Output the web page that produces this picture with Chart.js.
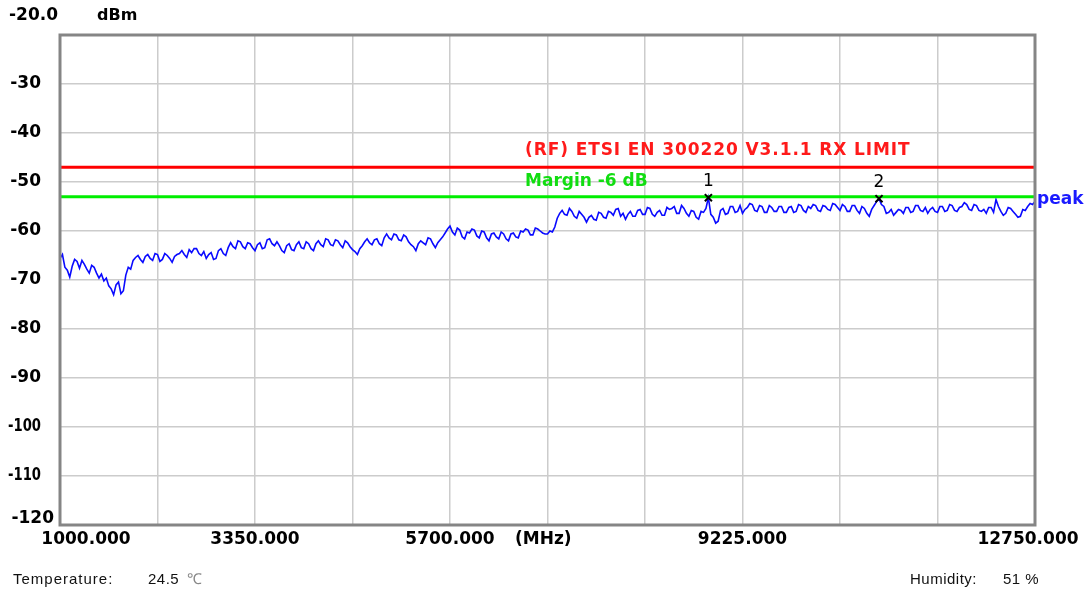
<!DOCTYPE html>
<html>
<head>
<meta charset="utf-8">
<script src="https://cdn.jsdelivr.net/npm/chart.js@4/dist/chart.umd.min.js"></script>
<style>
  html, body { margin: 0; padding: 0; background: #fff; }
  #wrap { width: 1090px; height: 593px; }
</style>
</head>
<body>
<div id="wrap"><canvas id="c" width="1090" height="593"></canvas></div>
<script>
// sweep settings (MHz)
const startFreq = 1000;
const stopFreq = 12750;
const sweepStep = 29.375;

// measured trace, dBm, one value per sweep point
const peakLevels = [
  -65.6, -64.8, -67.4, -68.0, -69.4, -67.2, -65.8, -66.2, -67.6, -66.0, -66.8, -67.8, -68.6, -67.0, -67.4, -68.6, -69.6, -68.8, -70.2, -69.6,
  -71.2, -71.8, -73.0, -71.0, -70.4, -72.8, -72.2, -69.0, -67.4, -67.8, -66.0, -65.4, -65.0, -65.8, -66.4, -65.2, -64.8, -65.6, -66.0, -64.6,
  -64.8, -66.2, -65.8, -64.6, -65.0, -65.6, -66.4, -65.2, -64.8, -64.6, -64.0, -64.8, -65.4, -63.8, -64.4, -63.6, -63.6, -64.6, -65.0, -64.2,
  -65.6, -64.8, -64.4, -65.8, -65.6, -64.0, -63.6, -64.6, -65.0, -63.4, -62.4, -63.2, -63.6, -62.0, -62.2, -63.2, -63.6, -62.4, -62.6, -63.4,
  -64.0, -62.8, -62.4, -63.6, -63.4, -61.8, -61.6, -62.6, -63.0, -62.2, -63.0, -64.0, -64.4, -63.0, -62.6, -63.8, -64.0, -62.8, -62.2, -63.4,
  -63.6, -62.2, -62.6, -63.6, -64.0, -62.6, -62.0, -62.8, -63.2, -61.6, -61.8, -62.8, -63.0, -61.8, -62.0, -62.8, -63.4, -62.0, -62.4, -63.2,
  -63.8, -64.2, -64.8, -63.6, -63.0, -62.2, -61.6, -62.4, -62.8, -61.8, -61.6, -62.6, -63.0, -61.4, -60.6, -61.4, -61.8, -60.6, -60.8, -61.8,
  -62.0, -60.8, -61.2, -62.2, -62.8, -63.2, -64.0, -62.6, -62.0, -62.4, -62.8, -61.4, -61.6, -62.6, -63.4, -62.4, -61.8, -61.2, -60.4, -59.6,
  -59.0, -60.2, -60.8, -59.4, -59.8, -61.2, -61.6, -60.2, -60.4, -59.6, -59.8, -61.0, -61.4, -60.0, -60.2, -61.4, -62.0, -60.6, -60.4, -61.2,
  -61.6, -60.2, -60.6, -61.6, -62.0, -60.6, -60.4, -61.2, -61.4, -60.0, -60.2, -59.6, -59.8, -60.8, -60.8, -59.4, -59.6, -60.0, -60.4, -60.6,
  -60.6, -60.0, -60.2, -59.2, -57.4, -56.4, -55.8, -56.6, -56.8, -55.4, -56.0, -57.0, -57.4, -56.0, -56.6, -57.2, -58.2, -57.2, -56.8, -57.6,
  -57.8, -56.2, -56.4, -57.2, -57.4, -56.0, -56.2, -56.8, -55.6, -55.4, -57.0, -56.4, -57.6, -56.6, -56.0, -57.0, -57.0, -55.8, -55.6, -56.6,
  -56.6, -55.2, -55.4, -56.6, -57.0, -56.2, -55.8, -56.8, -56.8, -55.2, -55.6, -55.4, -55.0, -56.4, -56.4, -54.8, -55.4, -56.4, -57.0, -55.8,
  -56.0, -57.2, -57.6, -56.0, -56.2, -55.4, -53.2, -56.6, -57.2, -58.4, -58.0, -55.8, -55.4, -56.6, -56.4, -55.0, -55.0, -56.2, -56.0, -54.8,
  -56.4, -55.6, -55.2, -54.4, -54.6, -55.8, -56.0, -54.8, -55.0, -56.2, -56.2, -54.8, -55.2, -56.0, -56.0, -55.0, -55.0, -56.2, -56.2, -55.2,
  -55.0, -56.2, -56.0, -54.6, -54.8, -55.8, -56.2, -55.0, -55.4, -54.6, -54.8, -55.8, -56.0, -54.8, -55.0, -55.6, -55.8, -54.4, -54.6, -55.2,
  -55.8, -54.6, -55.0, -56.0, -56.0, -54.8, -54.8, -55.8, -56.4, -55.0, -55.4, -56.4, -57.0, -55.6, -54.8, -54.0, -53.4, -54.6, -55.0, -56.4,
  -56.2, -55.6, -56.8, -56.2, -55.6, -55.8, -56.4, -55.2, -55.2, -56.2, -56.0, -54.8, -54.8, -55.8, -56.0, -55.2, -56.4, -55.6, -55.2, -56.0,
  -56.2, -55.0, -55.0, -56.0, -55.8, -54.6, -54.8, -55.8, -56.0, -55.2, -55.0, -54.2, -54.6, -55.6, -55.8, -54.6, -54.8, -55.8, -56.0, -55.6,
  -56.4, -55.2, -55.2, -56.2, -53.6, -55.0, -56.0, -56.8, -56.4, -55.2, -55.4, -56.0, -56.6, -57.2, -57.0, -55.6, -55.8, -55.0, -54.4, -54.6,
  -54.0
];

// limit lines
const limitLevel = -47;
const marginLevel = -53;

// markers
const markerNames = ['1', '2'];
const markerFreqs = [8813.75, 10870];
const markerLevels = [-53.2, -53.4];

// axis labels
const yTicks = [-30, -40, -50, -60, -70, -80, -90, -100, -110];
const xTickLabels = [1000, 3350, 5700, 9225, 12750];

const tracePoints = peakLevels.map((v, i) => ({ x: startFreq + i * sweepStep, y: v }));
const markerPoints = markerFreqs.map((f, i) => ({ x: f, y: markerLevels[i] }));

const boldFont = 'bold 17px "DejaVu Sans", sans-serif';

const textPlugin = {
  id: 'textPlugin',
  afterDraw(chart) {
    const ctx = chart.ctx;
    const xs = chart.scales.x;
    const ys = chart.scales.y;
    const a = chart.chartArea;
    ctx.save();

    // frame
    ctx.strokeStyle = '#858585';
    ctx.lineWidth = 3;
    ctx.strokeRect(a.left, a.top, a.right - a.left, a.bottom - a.top);

    ctx.fillStyle = '#000';
    ctx.textBaseline = 'middle';
    ctx.font = boldFont;

    // y labels
    ctx.textAlign = 'left';
    ctx.fillText('-20.0', 9, 16);
    ctx.font = 'bold 16px "DejaVu Sans", sans-serif';
    ctx.fillText('dBm', 97, 16);
    ctx.font = boldFont;
    ctx.textAlign = 'right';
    yTicks.forEach(v => {
      const s = String(v);
      ctx.fillText(s, 41, ys.getPixelForValue(v), s.length > 3 ? 33 : 31);
    });
    ctx.fillText('-120', 54, ys.getPixelForValue(-120) - 6);

    // x labels
    ctx.textAlign = 'center';
    xTickLabels.forEach((f, i) => {
      let px = xs.getPixelForValue(f);
      if (i === 0) px += 26;
      if (i === xTickLabels.length - 1) px -= 7;
      ctx.fillText(f.toFixed(3), px, 540);
    });
    ctx.textAlign = 'left';
    ctx.fillText('(MHz)', 515, 540);

    // limit line captions
    ctx.fillStyle = '#ff1a1a';
    ctx.letterSpacing = '0.9px';
    ctx.fillText('(RF) ETSI EN 300220 V3.1.1 RX LIMIT', 525, ys.getPixelForValue(limitLevel) - 17);
    ctx.letterSpacing = '0px';
    ctx.fillStyle = '#11dd11';
    ctx.fillText('Margin -6 dB', 525, ys.getPixelForValue(marginLevel) - 15);

    // trace name
    ctx.fillStyle = '#1a1aff';
    ctx.fillText('peak', 1037, 200);

    // marker numbers
    ctx.fillStyle = '#000';
    ctx.textAlign = 'center';
    ctx.font = '17px "DejaVu Sans", sans-serif';
    markerFreqs.forEach((f, i) => {
      ctx.fillText(markerNames[i], xs.getPixelForValue(f), ys.getPixelForValue(markerLevels[i]) - 16);
    });

    // footer
    ctx.font = '15px "Liberation Sans", Arial, sans-serif';
    ctx.textAlign = 'left';
    ctx.fillStyle = '#111';
    ctx.letterSpacing = '1px';
    ctx.fillText('Temperature:', 13, 580);
    ctx.letterSpacing = '0.5px';
    ctx.fillText('24.5', 148, 580);
    ctx.fillStyle = '#888';
    ctx.fillText('\u2103', 187, 580);
    ctx.fillStyle = '#111';
    ctx.fillText('Humidity:', 910, 580);
    ctx.fillText('51 %', 1003, 580);

    ctx.restore();
  }
};

new Chart(document.getElementById('c'), {
  type: 'line',
  data: {
    datasets: [
      {
        type: 'scatter',
        data: markerPoints,
        pointStyle: 'crossRot',
        pointRadius: 5,
        borderColor: '#000',
        borderWidth: 2,
        showLine: false,
        order: 0
      },
      {
        data: [{ x: startFreq, y: limitLevel }, { x: stopFreq, y: limitLevel }],
        borderColor: '#ff0000',
        borderWidth: 3,
        pointRadius: 0,
        order: 1
      },
      {
        data: [{ x: startFreq, y: marginLevel }, { x: stopFreq, y: marginLevel }],
        borderColor: '#00ee00',
        borderWidth: 3,
        pointRadius: 0,
        order: 1
      },
      {
        data: tracePoints,
        borderColor: '#0a0aff',
        borderWidth: 1.6,
        pointRadius: 0,
        tension: 0,
        order: 2
      }
    ]
  },
  options: {
    responsive: false,
    animation: false,
    layout: { padding: { left: 60, top: 35, right: 55, bottom: 68 } },
    plugins: { legend: { display: false }, tooltip: { enabled: false } },
    scales: {
      x: {
        type: 'linear',
        min: startFreq,
        max: stopFreq,
        ticks: { display: false, stepSize: 1175 },
        grid: { color: '#cccccc', lineWidth: 1.5, drawTicks: false },
        border: { display: false }
      },
      y: {
        min: -120,
        max: -20,
        ticks: { display: false, stepSize: 10 },
        grid: { color: '#cccccc', lineWidth: 1.5, drawTicks: false },
        border: { display: false }
      }
    }
  },
  plugins: [textPlugin]
});
</script>
</body>
</html>
